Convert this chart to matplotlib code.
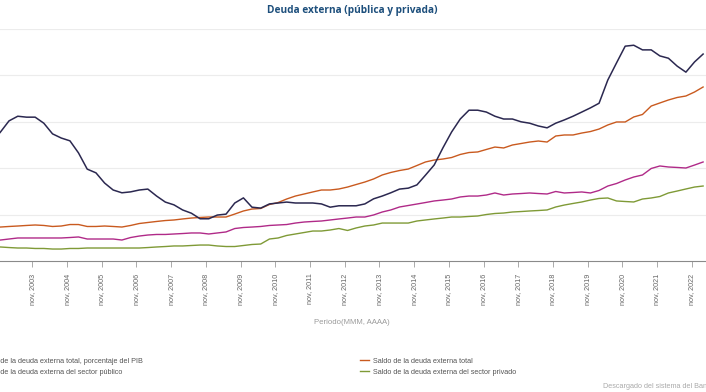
import matplotlib
matplotlib.use("Agg")
import matplotlib.pyplot as plt
import matplotlib.dates as mdates
import pandas as pd
from datetime import datetime

# trimestres, sep 2002 .. mar 2023
fechas = pd.date_range("2002-09-01", periods=83, freq="3MS")

# Saldo de la deuda externa total, porcentaje del PIB (%)
pct_pib = [
    35.6, 37.8, 40.2, 41.2, 41.0, 41.0, 39.7, 37.4, 36.5, 35.9,
    33.3, 29.8, 29.0, 26.8, 25.3, 24.7, 24.9, 25.3, 25.5, 24.0,
    22.7, 22.1, 21.0, 20.3, 19.1, 19.1, 19.9, 20.1, 22.5, 23.6,
    21.6, 21.4, 22.3, 22.5, 22.7, 22.5, 22.5, 22.5, 22.3, 21.6,
    21.9, 21.9, 21.9, 22.3, 23.4, 24.0, 24.7, 25.5, 25.7, 26.4,
    28.5, 30.7, 34.4, 37.8, 40.6, 42.5, 42.5, 42.1, 41.2, 40.6,
    40.6, 40.0, 39.7, 39.1, 38.7, 39.7, 40.4, 41.2, 42.1, 43.0,
    44.0, 49.0, 52.7, 56.3, 56.5, 55.5, 55.5, 54.2, 53.7, 52.0,
    50.7, 52.9, 54.6,
]

# Saldo de la deuda externa total (millones USD)
total = [
    36600, 36600, 37200, 37700, 38300, 38800, 38300, 37200, 37700, 39300,
    39300, 37200, 37200, 37700, 37200, 36600, 38300, 40400, 41500, 42600,
    43600, 44200, 45300, 46300, 46900, 47400, 47400, 47400, 50600, 53900,
    56000, 56600, 60900, 63000, 66800, 70000, 72200, 74400, 76500, 76500,
    77600, 79700, 82400, 85100, 88400, 92700, 95400, 97500, 99100, 102900,
    106700, 108800, 109900, 111500, 114800, 116900, 117500, 120200, 122800, 121800,
    125000, 126600, 128200, 129300, 128200, 134700, 135800, 135800, 137900, 139500,
    142200, 146600, 149800, 149800, 155200, 157900, 167000, 170300, 173500, 176200,
    177800, 182100, 187500,
]

# Saldo de la deuda externa del sector público (millones USD)
publico = [
    22100, 22600, 23700, 24800, 24800, 24800, 24800, 24800, 24800, 25300,
    25900, 23700, 23700, 23700, 23700, 22600, 25300, 26900, 28000, 28600,
    28600, 29100, 29600, 30200, 30200, 29100, 30200, 31300, 35000, 36100,
    36600, 37200, 38300, 38800, 39300, 40900, 42000, 42600, 43100, 44200,
    45300, 46300, 47400, 47400, 49600, 52800, 55000, 58200, 59800, 61400,
    63000, 64700, 65700, 66800, 69000, 70000, 70000, 71100, 73300, 71100,
    72200, 72700, 73300, 72700, 72200, 74900, 73300, 73800, 74400, 73300,
    76000, 80800, 83500, 87300, 90500, 92700, 99700, 102400, 101300, 100800,
    100200, 103400, 106700,
]

# Saldo de la deuda externa del sector privado (millones USD)
privado = [
    15100, 15100, 14500, 14000, 14000, 13500, 13500, 12900, 12900, 13500,
    13500, 14000, 14000, 14000, 14000, 14000, 14000, 14000, 14500, 15100,
    15600, 16200, 16200, 16700, 17200, 17200, 16200, 15600, 15600, 16700,
    17800, 18300, 23700, 24800, 27500, 29100, 30700, 32300, 32300, 33400,
    35000, 32900, 35600, 37700, 38800, 40900, 40900, 40900, 40900, 43100,
    44200, 45300, 46300, 47400, 47400, 48000, 48500, 50100, 51200, 51700,
    52800, 53300, 53900, 54400, 55000, 58200, 60300, 62000, 63600, 65700,
    67400, 67900, 64700, 64100, 63600, 66800, 67900, 69500, 73300, 75400,
    77600, 79700, 80800,
]

anios = list(range(2002, 2023))

W, H = 706, 392


def caja(l, t, r, b):
    return [l / W, 1 - b / H, (r - l) / W, (b - t) / H]


plt.rcParams["font.family"] = ["Liberation Sans", "DejaVu Sans"]

fig = plt.figure(figsize=(W / 100, H / 100), dpi=100)
ax = fig.add_axes(caja(-20, 29, 720, 261))
ax2 = ax.twinx()

# escala horizontal: nov 2003 en x=32.3 px, nov 2022 en x=691.7 px
d0 = mdates.date2num(datetime(2003, 11, 1))
d1 = mdates.date2num(datetime(2022, 11, 1))
ppd = (691.7 - 32.3) / (d1 - d0)
xlim = (d0 - (32.3 + 20) / ppd, d0 + (720 - 32.3) / ppd)

l_total, = ax.plot(fechas, total, color="#c95a1f", lw=1.0, zorder=3)
l_pub, = ax.plot(fechas, publico, color="#b02a88", lw=1.0, zorder=3)
l_priv, = ax.plot(fechas, privado, color="#7f9a36", lw=1.0, zorder=3)
l_pib, = ax2.plot(fechas, pct_pib, color="#2b2850", lw=1.1, zorder=4)

ax.set_xlim(xlim)
ax.set_ylim(0, 250000)
ax2.set_ylim(10, 60)
ax.set_yticks([50000, 100000, 150000, 200000, 250000])
ax.grid(axis="y", color="#ececec", lw=0.8)
ax.set_axisbelow(True)

for a in (ax, ax2):
    for s in ("top", "left", "right"):
        a.spines[s].set_visible(False)
    a.tick_params(axis="y", left=False, right=False, labelleft=False, labelright=False)
ax2.spines["bottom"].set_visible(False)
ax.spines["bottom"].set_color("#8a8a8a")
ax.spines["bottom"].set_linewidth(0.8)

ax.set_xticks([mdates.date2num(datetime(a, 11, 1)) for a in anios])
ax.set_xticklabels([f"nov, {a}" for a in anios], rotation=90, fontsize=5.2, color="#666666")
ax.tick_params(axis="x", length=4.5, width=0.7, color="#aaaaaa", pad=4.5)

fig.text(352 / W, 1 - 11 / H, "Deuda externa (pública y privada)", ha="center", va="center",
         fontsize=7.3, fontweight="bold", color="#1d4f7c", family=["Open Sans", "DejaVu Sans"])
fig.text(352 / W, 1 - 323 / H, "Periodo(MMM, AAAA)", ha="center", va="center",
         fontsize=5.6, color="#9a9a9a")

estilo = dict(loc="upper left", frameon=False, fontsize=5.2, handlelength=1.25,
              handletextpad=0.55, labelspacing=0.55, borderpad=0, borderaxespad=0,
              labelcolor="#555555")
leg1 = fig.legend([l_pib, l_pub],
                  ["Saldo de la deuda externa total, porcentaje del PIB",
                   "Saldo de la deuda externa del sector público"],
                  bbox_to_anchor=(-33 / W, 1 - 357.5 / H), **estilo)
leg2 = fig.legend([l_total, l_priv],
                  ["Saldo de la deuda externa total",
                   "Saldo de la deuda externa del sector privado"],
                  bbox_to_anchor=(360 / W, 1 - 357.5 / H), **estilo)

fig.text(603 / W, 1 - 386 / H, "Descargado del sistema del Banco de la República",
         ha="left", va="center", fontsize=5.2, color="#aaaaaa")

fig.savefig("out.png", dpi=100)
